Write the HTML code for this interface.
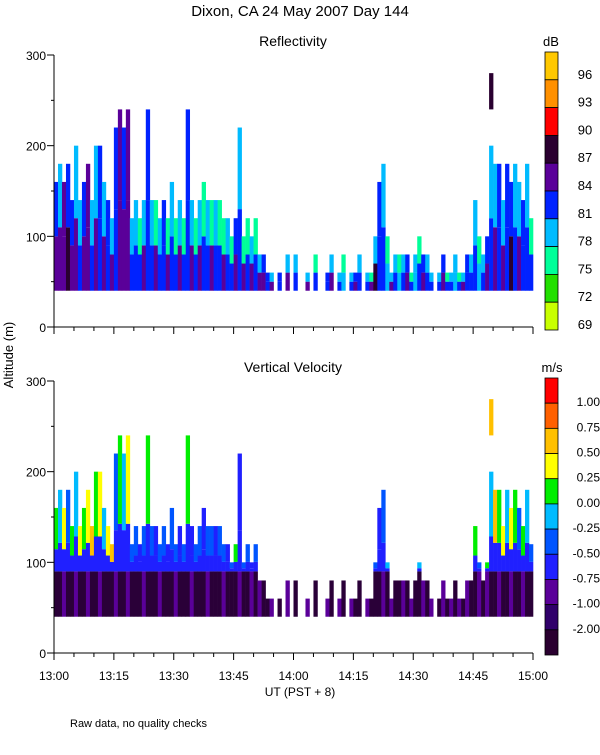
<!DOCTYPE html>
<html><head><meta charset="utf-8"><style>
body{margin:0;background:#fff;}
svg text{font-family:"Liberation Sans",sans-serif;fill:#000;}
</style></head><body>
<svg id="c" width="600" height="750" viewBox="0 0 600 750" xmlns="http://www.w3.org/2000/svg">
<text x="300" y="16" text-anchor="middle" font-size="15">Dixon, CA 24 May 2007  Day 144</text>
<text x="293" y="46" text-anchor="middle" font-size="14">Reflectivity</text>
<text x="293" y="372" text-anchor="middle" font-size="14">Vertical Velocity</text>
<text transform="translate(13,355) rotate(-90)" text-anchor="middle" font-size="13">Altitude (m)</text>
<text x="300" y="696" text-anchor="middle" font-size="12">UT  (PST + 8)</text>
<text x="70" y="727" font-size="11">Raw data, no quality checks</text>
<text x="551" y="46" text-anchor="middle" font-size="13">dB</text>
<text x="552" y="372" text-anchor="middle" font-size="13">m/s</text>
<g id="g"></g>
</svg>
<script>
const minutes=120;
const colTop=[160,180,160,180,140,200,140,160,180,140,200,200,160,140,120,220,240,220,240,120,
140,120,140,240,140,140,120,140,120,160,120,140,120,240,140,120,140,160,140,140,
140,140,120,120,100,120,220,100,120,100,120,80,80,60,60,0,60,0,80,0,
80,0,0,60,0,80,0,0,60,80,0,60,80,0,60,60,80,0,60,60,
100,160,180,100,60,80,80,80,80,60,80,100,80,80,60,0,60,80,60,60,
80,60,60,80,80,140,100,80,100,200,180,180,140,180,160,180,160,140,180,120];
const refLow=[85,86,85,88,84,85,82,85,86,82,85,82,85,82,84,82,85,85,86,82,
82,82,84,82,82,85,82,82,85,82,82,85,82,82,84,82,85,82,82,84,82,82,85,82,82,85,82,84,82,85,
82,85,84,82,85,0,82,0,84,0,82,0,0,84,0,82,0,0,82,84,0,82,79,0,82,84,82,0,82,85,
88,82,82,79,85,82,79,82,84,82,79,82,85,82,82,0,82,84,82,82,79,82,85,82,82,82,79,82,85,82,85,82,85,82,88,82,85,82,82,82];
const refHigh=[82,79,85,82,82,79,79,82,85,79,79,82,79,82,79,82,85,82,85,79,
79,76,79,82,79,76,79,82,76,79,76,79,76,82,79,76,79,76,79,76,79,76,76,79,76,82,79,76,76,79,
76,79,82,82,79,0,82,0,79,0,79,0,0,79,0,76,0,0,82,79,0,79,76,0,79,82,79,0,79,76,
79,82,79,76,79,79,76,79,82,76,79,76,82,79,79,0,79,82,76,79,79,76,79,82,79,79,76,79,82,79,79,82,79,82,82,79,79,82,79,76];
const velLow=[-1.5,-1.5,-0.9,-1.5,-1.5,-0.9,-1.5,-1.5,-0.9,-1.5,-1.5,-0.9,-1.5,-1.5,-1.5,-0.9,-1.5,-1.5,-0.9,-1.5,
-1.5,-1.5,-0.9,-1.5,-1.5,-1.5,-0.9,-1.5,-1.5,-1.5,-0.9,-1.5,-1.5,-1.5,-0.9,-1.5,-1.5,-1.5,-0.9,-1.5,
-1.5,-1.5,-0.9,-1.5,-1.5,-1.5,-0.9,-1.5,-1.5,-0.9,-1.5,-0.9,-1.5,-1.5,-0.9,0,-1.5,0,-0.9,0,
-1.5,0,0,-0.9,0,-1.5,0,0,-0.9,-1.5,0,-0.9,-1.5,0,-0.9,-1.5,-1.5,0,-0.9,-1.5,
-1.5,-1.5,-0.9,-1.5,-0.9,-1.5,-1.5,-0.9,-1.5,-0.9,-1.5,-1.5,-0.9,-1.5,-0.9,0,-1.5,-0.9,-1.5,-0.9,
-1.5,-0.9,-1.5,-0.9,-1.5,-1.5,-0.9,-1.5,-0.9,-1.5,-1.5,-0.9,-1.5,-1.5,-0.9,-1.5,-1.5,-0.9,-1.5,-1.5];
const velHigh=[0.1,-0.1,0.3,-0.3,0.1,-0.2,0.3,0.1,0.4,0.6,0.1,0.3,-0.1,0.4,0.6,-0.3,0.2,-0.1,0.3,-0.4,
-0.4,-0.6,-0.3,0.1,-0.4,-0.6,-0.3,-0.4,-0.6,-0.3,-0.4,-0.6,-0.3,0.1,-0.6,-0.4,-0.3,-0.6,-0.4,-0.3,
-0.6,-0.4,-0.3,-0.6,-0.4,0.1,-0.6,-0.4,-0.3,-0.6,-0.4,-0.6,-0.3,-0.6,-0.4,0,-0.3,0,-0.6,0,
-0.4,0,0,-0.1,0,-0.6,0,0,-0.3,-0.6,0,0.1,-0.4,0,-0.6,-0.3,-0.4,0,-0.6,0.3,
-0.4,-0.6,-0.3,-0.1,-0.6,-0.4,0.3,-0.6,-0.4,-0.3,-0.6,-0.1,-0.4,-0.6,0.3,0,-0.4,-0.6,-0.3,-0.6,
-0.4,0.4,-0.6,-0.4,0.3,0.1,-0.3,0.4,0.1,-0.2,0.6,0.1,0.4,-0.1,0.3,0.1,-0.3,0.1,-0.1,-0.4];
const spikeMin=[109];
const spikeBottom=[240];
const spikeTop=[280];
const spikeRef=[88];
const spikeVel=[0.6];
const xTickLabels=["13:00","13:15","13:30","13:45","14:00","14:15","14:30","14:45","15:00"];
const yTickLabels=[0,100,200,300];
const dbLabels=[96,93,90,87,84,81,78,75,72,69];
const dbColors=["#ffc800","#ff9000","#ff0000","#2a0030","#5a0099","#0022ff","#00bbff","#00ff99","#22e000","#c8ff00"];
const velLabels=["1.00","0.75","0.50","0.25","0.00","-0.25","-0.50","-0.75","-1.00","-2.00"];
const velColors=["#ff0000","#ff6000","#ffc000","#ffff00","#00ee00","#00bbff","#0055ff","#2020ff","#5a0099","#2a0038"];

const NS="http://www.w3.org/2000/svg";
const g=document.getElementById('g');
function mk(t,a){const e=document.createElementNS(NS,t);for(const k in a)e.setAttribute(k,a[k]);g.appendChild(e);return e;}
const X0=54,X1=533;
function xs(m){return X0+m*(X1-X0)/minutes;}
function ys(base,alt){return base-alt*272/300;}
function dbColor(v){for(let i=0;i<dbLabels.length;i++){if(v>=dbLabels[i])return dbColors[i];}return dbColors[dbColors.length-1];}
function velColor(v){const th=[1,0.75,0.5,0.25,0,-0.25,-0.5,-0.75,-1,-99];for(let i=0;i<th.length;i++){if(v>=th[i])return velColors[i];}return velColors[9];}
function seg(base,m,a0,a1,col,name){
  const e=mk('rect',{x:xs(m).toFixed(2),y:ys(base,a1).toFixed(2),width:(xs(m+1)-xs(m)+0.3).toFixed(2),height:(ys(base,a0)-ys(base,a1)).toFixed(2),fill:col});
  
  
}
const B1=327,B2=653;
for(let m=0;m<minutes;m++){
  const t=colTop[m]; if(!t||!refLow[m])continue;
  const mid=40+(t-40)*0.5;
  seg(B1,m,40,mid,dbColor(refLow[m]),'reflectivity-cell');
  seg(B1,m,mid,t,dbColor(refHigh[m]),'reflectivity-cell');
  const vm=Math.min(t,90);
  seg(B2,m,40,vm,velColor(velLow[m]),'velocity-cell');
  if(t>vm){
    const vm2=vm+(t-vm)*0.35;
    seg(B2,m,vm,vm2,velColor(-0.6),'velocity-cell');
    seg(B2,m,vm2,t,velColor(velHigh[m]),'velocity-cell');
  }
}
for(let i=0;i<spikeMin.length;i++){
  seg(B1,spikeMin[i],spikeBottom[i],spikeTop[i],dbColor(spikeRef[i]),'reflectivity-spike');
  seg(B2,spikeMin[i],spikeBottom[i],spikeTop[i],velColor(spikeVel[i]),'velocity-spike');
}
[B1,B2].forEach((B,pi)=>{
  const ax=mk('path',{d:`M${X0} ${ys(B,300)} V${B} H${X1}`,stroke:'#000',fill:'none','stroke-width':1});
  
  
  for(let a=0;a<=300;a+=50){
    const major=a%100===0;
    const t=mk('line',{x1:X0-(major?7:3),x2:X0,y1:ys(B,a),y2:ys(B,a),stroke:'#000'});
    
    
  }
  yTickLabels.forEach(v=>{
    const tx=mk('text',{x:X0-8,y:ys(B,v)+5,'text-anchor':'end','font-size':12});
    tx.textContent=v;
    
    
  });
  for(let m=0;m<=minutes;m+=5){
    const major=m%15===0;
    const t=mk('line',{x1:xs(m),x2:xs(m),y1:B,y2:B+(major?7:4),stroke:'#000'});
    
    
  }
});
xTickLabels.forEach((l,i)=>{
  const tx=mk('text',{x:xs(i*15),y:680,'text-anchor':'middle','font-size':12});
  tx.textContent=l;
  
  
});
const cbX=545,cbW=13;
const h1=(330-52)/dbColors.length;
dbColors.forEach((c,i)=>{
  const r=mk('rect',{x:cbX,y:52+i*h1,width:cbW,height:h1,fill:c,stroke:'#000','stroke-width':0.8});
  
  
  const tx=mk('text',{x:585,y:52+(i+1)*h1-1,'text-anchor':'middle','font-size':13});
  tx.textContent=dbLabels[i];
  
  
});
const h2=(655-378)/11;
const vbar=["#ff0000","#ff6000","#ffc000","#ffff00","#00ee00","#00bbff","#0055ff","#2020ff","#5a0099","#30006a","#2a0030"];
vbar.forEach((c,i)=>{
  const r=mk('rect',{x:cbX,y:378+i*h2,width:cbW,height:h2,fill:c,stroke:'#000','stroke-width':0.8});
  
  
});
velLabels.forEach((l,i)=>{
  const tx=mk('text',{x:600,y:378+(i+1)*h2+3,'text-anchor':'end','font-size':12});
  tx.textContent=l;
  
  
});
</script>
</body></html>
